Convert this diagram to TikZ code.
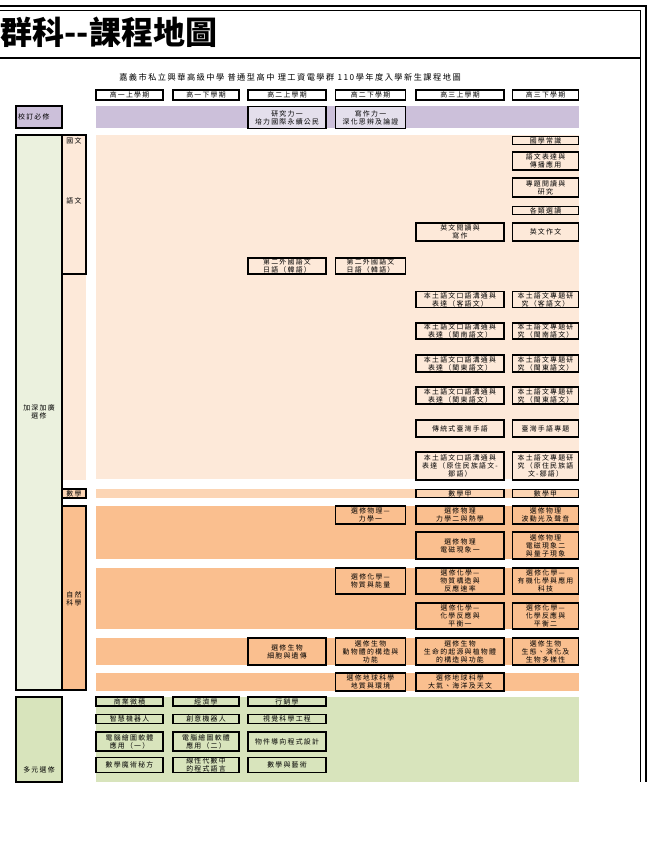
\documentclass[tikz,border=0pt]{standalone}
\usepackage{fontspec}
\newfontfamily\cjk{Noto Sans CJK TC}
\newfontfamily\cjksp{Noto Sans CJK TC}[LetterSpace=18]
\usetikzlibrary{positioning}

\definecolor{purpleband}{HTML}{CCC0DA}
\definecolor{purplebox}{HTML}{E4DFEC}
\definecolor{greenside}{HTML}{EBF1DE}
\definecolor{greenband}{HTML}{D8E4BC}
\definecolor{peachband}{HTML}{FDE9D9}
\definecolor{mathband}{HTML}{FCD5B4}
\definecolor{sciband}{HTML}{FABF8F}

\newcommand\boxfont{\cjksp\fontsize{6.9}{8.1}\selectfont}

\begin{document}
\begin{tikzpicture}[x=1pt,y=-1pt,
    course/.style={draw,line width=1.1pt,inner sep=0pt,align=center,font=\boxfont},
    c1/.style={course,minimum width=67},
    c2/.style={course,minimum width=66},
    c3/.style={course,minimum width=78},
    c4/.style={course,minimum width=70},
    c5/.style={course,minimum width=88},
    c6/.style={course,minimum width=66},
    side/.style={draw,line width=1.1pt},
    label/.style={inner sep=0pt,align=center,font=\boxfont}]
  \useasboundingbox (0,0) rectangle (647,854);

  % frame and title
  \draw[line width=2pt] (0,5.5) -- (645.5,5.5) -- (645.5,782);
  \draw[line width=1pt] (0,10) -- (640.5,10) -- (640.5,782);
  \draw[line width=2pt] (0,58) -- (640.5,58);
  \node[anchor=base west,inner sep=0pt,font=\cjk\bfseries\fontsize{32}{32}\selectfont] (title) at (0.5,44) {群科-{}-課程地圖};
  \node[label,font=\cjksp\fontsize{8.2}{9}\selectfont] (subtitle) at (290,77) {嘉義市私立興華高級中學 普通型高中 理工資電學群 110學年度入學新生課程地圖};

  % bands
  \fill[purpleband] (96,106) rectangle (579,128);
  \fill[peachband] (96,135) rectangle (579,479);
  \fill[peachband] (62,274) rectangle (86,480);
  \fill[mathband] (96,489) rectangle (579,498);
  \fill[sciband] (96,506) rectangle (579,559);
  \fill[sciband] (96,568) rectangle (579,629);
  \fill[sciband] (96,638) rectangle (579,665);
  \fill[sciband] (96,673) rectangle (579,691);
  \fill[greenband] (96,697) rectangle (579,782);

  % left column
  \draw[side,fill=purpleband] (16,106) rectangle (62,128);
  \node[label,anchor=west] (school) at (18,117) {校訂必修};
  \draw[side,fill=greenside] (16,135) rectangle (62,690);
  \node[label] (advanced) at (39,412) {加深加廣\\選修};
  \draw[side,fill=peachband] (62,135) rectangle (86,274);
  \node[label] (chinese) at (74,141) {國文};
  \node[label] (language) at (74,201) {語文};
  \draw[side,fill=mathband] (62,489) rectangle (86,498);
  \node[label] (math) at (74,493.5) {數學};
  \draw[side,fill=sciband] (62,506) rectangle (86,690);
  \node[label] (science) at (74,599) {自然\\科學};
  \draw[side,fill=greenband] (16,697) rectangle (62,782);
  \node[label] (multi) at (39,770) {多元選修};

  % semesters
  \node[c1,minimum height=10] (h1) at (129.5,95) {高一上學期};
  \node[c2,minimum height=10] (h2) at (206,95) {高一下學期};
  \node[c3,minimum height=10] (h3) at (287,95) {高二上學期};
  \node[c4,minimum height=10] (h4) at (370.5,95) {高二下學期};
  \node[c5,minimum height=10] (h5) at (460,95) {高三上學期};
  \node[c6,minimum height=10] (h6) at (545.5,95) {高三下學期};

  % school required
  \node[c3,minimum height=22,fill=purplebox] (research) at (287,117.5) {研究力一\\培力國際永續公民};
  \node[c4,minimum height=22,fill=purplebox] (writing) at (370.5,117.5) {寫作力一\\深化思辨及論證};

  % language
  \node[c6,minimum height=8,fill=peachband] (guoxue) at (545.5,140.5) {國學常識};
  \node[c6,minimum height=18,fill=peachband] (express) at (545.5,161) {語文表達與\\傳播應用};
  \node[c6,minimum height=19,fill=peachband] (topic) at (545.5,187.5) {專題閱讀與\\研究};
  \node[c6,minimum height=8,fill=peachband] (select) at (545.5,210.5) {各類選讀};
  \node[c5,minimum height=18,fill=peachband] (engread) at (460,232) {英文閱讀與\\寫作};
  \node[c6,minimum height=18,fill=peachband] (engwrite) at (545.5,232) {英文作文};
  \node[c3,minimum height=16,fill=peachband] (second1) at (287,266) {第二外國語文\\日語（韓語）};
  \node[c4,minimum height=16,fill=peachband] (second2) at (370.5,266) {第二外國語文\\日語（韓語）};
  \node[c5,minimum height=16,fill=peachband] (hakka1) at (460,299.5) {本土語文口語溝通與\\表達（客語文）};
  \node[c6,minimum height=16,fill=peachband] (hakka2) at (545.5,299.5) {本土語文專題研\\究（客語文）};
  \node[c5,minimum height=16,fill=peachband] (minnan1) at (460,331) {本土語文口語溝通與\\表達（閩南語文）};
  \node[c6,minimum height=16,fill=peachband] (minnan2) at (545.5,331) {本土語文專題研\\究（閩南語文）};
  \node[c5,minimum height=17,fill=peachband] (mindong1) at (460,363.5) {本土語文口語溝通與\\表達（閩東語文）};
  \node[c6,minimum height=17,fill=peachband] (mindong2) at (545.5,363.5) {本土語文專題研\\究（閩東語文）};
  \node[c5,minimum height=17,fill=peachband] (matsu1) at (460,395.5) {本土語文口語溝通與\\表達（閩東語文）};
  \node[c6,minimum height=17,fill=peachband] (matsu2) at (545.5,395.5) {本土語文專題研\\究（閩東語文）};
  \node[c5,minimum height=17,fill=peachband] (sign1) at (460,428.5) {傳統式臺灣手語};
  \node[c6,minimum height=17,fill=peachband] (sign2) at (545.5,428.5) {臺灣手語專題};
  \node[c5,minimum height=28,fill=peachband] (tsou1) at (460,466) {本土語文口語溝通與\\表達（原住民族語文-\\鄒語）};
  \node[c6,minimum height=28,fill=peachband] (tsou2) at (545.5,466) {本土語文專題研\\究（原住民族語\\文-鄒語）};

  % math
  \node[c5,minimum height=8,fill=mathband] (matha1) at (460,493.5) {數學甲};
  \node[c6,minimum height=8,fill=mathband] (matha2) at (545.5,493.5) {數學甲};

  % science
  \node[c4,minimum height=18,fill=sciband] (phy1) at (370.5,515) {選修物理—\\力學一};
  \node[c5,minimum height=18,fill=sciband] (phy2) at (460,515) {選修物理\\力學二與熱學};
  \node[c6,minimum height=18,fill=sciband] (phy3) at (545.5,515) {選修物理\\波動光及聲音};
  \node[c5,minimum height=27,fill=sciband] (phy4) at (460,545.5) {選修物理\\電磁現象一};
  \node[c6,minimum height=27,fill=sciband] (phy5) at (545.5,545.5) {選修物理\\電磁現象二\\與量子現象};
  \node[c4,minimum height=26,fill=sciband] (chem1) at (370.5,581) {選修化學—\\物質與能量};
  \node[c5,minimum height=26,fill=sciband] (chem2) at (460,581) {選修化學—\\物質構造與\\反應速率};
  \node[c6,minimum height=26,fill=sciband] (chem3) at (545.5,581) {選修化學—\\有機化學與應用\\科技};
  \node[c5,minimum height=26,fill=sciband] (chem4) at (460,616) {選修化學—\\化學反應與\\平衡一};
  \node[c6,minimum height=26,fill=sciband] (chem5) at (545.5,616) {選修化學—\\化學反應與\\平衡二};
  \node[c3,minimum height=27,fill=sciband] (bio1) at (287,651.5) {選修生物\\細胞與遺傳};
  \node[c4,minimum height=27,fill=sciband] (bio2) at (370.5,651.5) {選修生物\\動物體的構造與\\功能};
  \node[c5,minimum height=27,fill=sciband] (bio3) at (460,651.5) {選修生物\\生命的起源與植物體\\的構造與功能};
  \node[c6,minimum height=27,fill=sciband] (bio4) at (545.5,651.5) {選修生物\\生態、演化及\\生物多樣性};
  \node[c4,minimum height=18,fill=sciband] (earth1) at (370.5,682) {選修地球科學\\地質與環境};
  \node[c5,minimum height=18,fill=sciband] (earth2) at (460,682) {選修地球科學\\大氣、海洋及天文};

  % multiple electives
  \node[c1,minimum height=9,fill=greenband] (calc) at (129.5,701.5) {商業微積};
  \node[c2,minimum height=9,fill=greenband] (econ) at (206,701.5) {經濟學};
  \node[c3,minimum height=9,fill=greenband] (market) at (287,701.5) {行銷學};
  \node[c1,minimum height=9,fill=greenband] (robot1) at (129.5,719) {智慧機器人};
  \node[c2,minimum height=9,fill=greenband] (robot2) at (206,719) {創意機器人};
  \node[c3,minimum height=9,fill=greenband] (vision) at (287,719) {視覺科學工程};
  \node[c1,minimum height=19,fill=greenband] (cad1) at (129.5,741.5) {電腦繪圖軟體\\應用（一）};
  \node[c2,minimum height=19,fill=greenband] (cad2) at (206,741.5) {電腦繪圖軟體\\應用（二）};
  \node[c3,minimum height=19,fill=greenband] (oop) at (287,741.5) {物件導向程式設計};
  \node[c1,minimum height=15,fill=greenband] (magic) at (129.5,765) {數學魔術秘方};
  \node[c2,minimum height=15,fill=greenband] (linalg) at (206,765) {線性代數中\\的程式語言};
  \node[c3,minimum height=15,fill=greenband] (art) at (287,765) {數學與藝術};
\end{tikzpicture}
\end{document}
